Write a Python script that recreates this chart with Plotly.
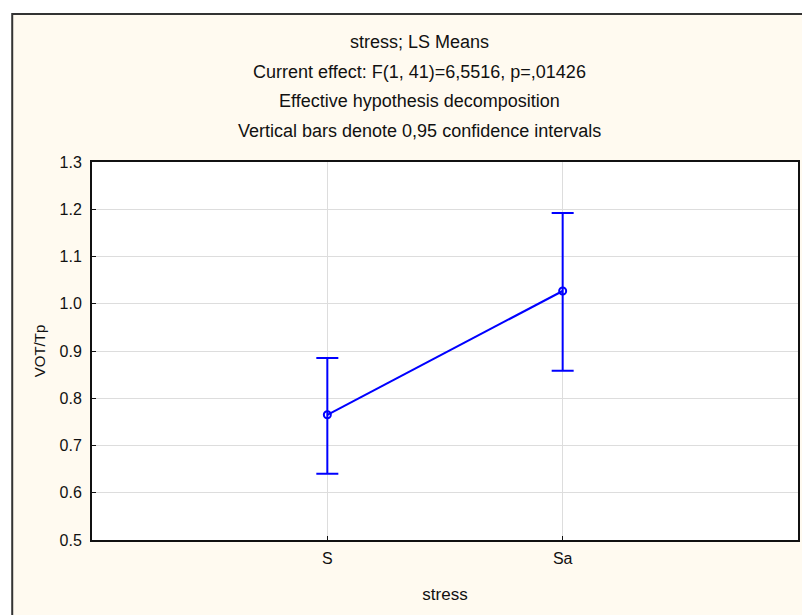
import plotly.graph_objects as go

categories = ["S", "Sa"]
means = [0.765, 1.027]
ci_upper = [0.885, 1.192]
ci_lower = [0.640, 0.858]
y_ticks = [0.5, 0.6, 0.7, 0.8, 0.9, 1.0, 1.1, 1.2, 1.3]
title_lines = [
    "stress; LS Means",
    "Current effect: F(1, 41)=6,5516, p=,01426",
    "Effective hypothesis decomposition",
    "Vertical bars denote 0,95 confidence intervals",
]

err_plus = [u - m for u, m in zip(ci_upper, means)]
err_minus = [m - l for m, l in zip(means, ci_lower)]

BLUE = "#0000FF"
FONT = "Liberation Sans, Arial, sans-serif"
CREAM = "#FFFAF0"

fig = go.Figure()
fig.add_trace(go.Scatter(
    x=categories, y=means, mode="lines+markers",
    line=dict(color=BLUE, width=2),
    marker=dict(symbol="circle-open", size=7, color=BLUE, line=dict(width=2, color=BLUE)),
    error_y=dict(type="data", symmetric=False, array=err_plus, arrayminus=err_minus,
                 color=BLUE, thickness=2, width=11),
    showlegend=False,
))

# page offset of the figure (body margin) is 8px
W, H = 802, 607
L, T = 84, 154
R = W - 792
B = H - 532
pw = W - L - R
ph = H - T - B

def px_x(x):
    return (x - L) / pw

def px_y(y):
    return ((H - B) - y) / ph

# outer cream frame
fig.add_shape(type="rect", xref="paper", yref="paper",
              x0=px_x(4), x1=px_x(W + 20), y0=px_y(H + 20), y1=px_y(6),
              line=dict(color="#333333", width=2), fillcolor=CREAM, layer="below")
# white plot area on top of the cream frame
fig.add_shape(type="rect", xref="paper", yref="paper",
              x0=0, x1=1, y0=0, y1=1,
              line=dict(width=0), fillcolor="#FFFFFF", layer="below")

title_y = [34, 64, 93, 123]
for txt, yy in zip(title_lines, title_y):
    fig.add_annotation(text=txt, xref="paper", yref="paper",
                       x=px_x(412), y=px_y(yy),
                       showarrow=False, xanchor="center", yanchor="middle",
                       font=dict(family=FONT, size=18, color="#111111"))

fig.update_layout(
    width=W, height=H,
    margin=dict(l=L, r=R, t=T, b=B),
    paper_bgcolor="#FFFFFF",
    plot_bgcolor="#FFFFFF",
    font=dict(family=FONT, size=16, color="#111111"),
    xaxis=dict(type="category", range=[-1, 2], showgrid=True, gridcolor="#DDDDDD",
               showline=True, linecolor="#111111", linewidth=2, mirror=True,
               ticks="inside", ticklen=4, tickcolor="#111111", ticklabelstandoff=3,
               tickfont=dict(family=FONT, size=16, color="#111111"),
               title=dict(text="stress", standoff=22,
                          font=dict(family=FONT, size=17, color="#111111")),
               zeroline=False),
    yaxis=dict(range=[0.5, 1.3], tickvals=y_ticks, tickformat=".1f",
               showgrid=True, gridcolor="#DDDDDD",
               showline=True, linecolor="#111111", linewidth=2, mirror=True,
               ticks="inside", ticklen=4, tickcolor="#111111", ticklabelstandoff=5,
               tickfont=dict(family=FONT, size=16, color="#111111"),
               title=dict(text="VOT/Tp", standoff=10,
                          font=dict(family=FONT, size=15, color="#111111")),
               zeroline=False),
)

fig.write_html("out.html")
